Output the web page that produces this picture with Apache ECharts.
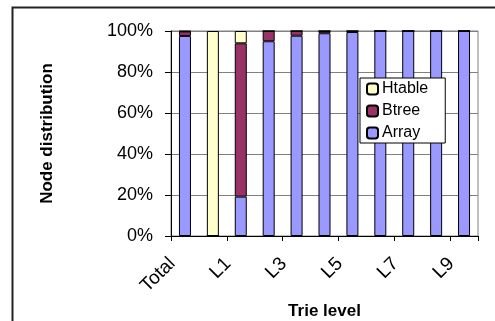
<!DOCTYPE html>
<html>
<head>
<meta charset="utf-8">
<script src="https://cdn.jsdelivr.net/npm/echarts@6/dist/echarts.min.js"></script>
<style>html,body{margin:0;padding:0;background:#fff}#c{width:495px;height:321px}</style>
</head>
<body>
<div id="c"></div>
<script>
const categories = ['Total','L0','L1','L2','L3','L4','L5','L6','L7','L8','L9'];
const arrayVals  = [97.6, 0, 19.2, 95.0, 97.7, 98.9, 99.5, 100, 100, 100, 100];
const btreeVals  = [2.2, 0, 74.8, 5.0, 2.3, 1.1, 0.5, 0, 0, 0, 0];
const htableVals = [0.2, 100, 6.0, 0, 0, 0, 0, 0, 0, 0, 0];
const yTicks = [0, 20, 40, 60, 80, 100];

const FONT = 'Arial, "Liberation Sans", sans-serif';
const chart = echarts.init(document.getElementById('c'), null, {renderer: 'canvas'});
const bar = (name, data, color) => ({
  name, type: 'bar', stack: 'all', data, barWidth: '43%',
  itemStyle: {color, borderColor: '#000', borderWidth: 1},
  emphasis: {disabled: true}
});
chart.setOption({
  animation: false,
  backgroundColor: '#fff',
  textStyle: {fontFamily: FONT},
  graphic: [{
    type: 'rect', left: 10, top: 5, shape: {x: 0, y: 0, width: 600, height: 400},
    style: {fill: 'none', stroke: '#222', lineWidth: 2}, silent: true, z: 100
  }],
  grid: {left: 171, right: 17, top: 31, bottom: 85, show: true, borderColor: '#808080', borderWidth: 1,
         containLabel: false, outerBoundsMode: 'none'},
  legend: {
    data: ['Htable', 'Btree', 'Array'],
    orient: 'vertical', left: 360, top: 78,
    itemWidth: 11, itemHeight: 11, itemGap: 6,
    padding: [3, 17, 2, 6],
    backgroundColor: '#fff', borderColor: '#000', borderWidth: 1,
    textStyle: {fontSize: 16, lineHeight: 16, color: '#000', fontFamily: FONT, padding: [0, 0, 0, -1]},
    selectedMode: false
  },
  xAxis: {
    type: 'category', data: categories,
    name: 'Trie level', nameLocation: 'middle', nameGap: 60,
    nameTextStyle: {fontSize: 17, fontWeight: 'bold', color: '#000', fontFamily: FONT},
    axisLine: {lineStyle: {color: '#000', width: 1}},
    axisTick: {show: true, length: 5, lineStyle: {color: '#000'}},
    axisLabel: {rotate: 45, interval: 1, fontSize: 19, color: '#000', margin: 12, padding: [0, 18, 0, 0], fontFamily: FONT}
  },
  yAxis: {
    type: 'value', min: 0, max: 100, interval: 20,
    name: 'Node distribution', nameLocation: 'middle', nameGap: 115, nameRotate: 90,
    nameTextStyle: {fontSize: 17, fontWeight: 'bold', color: '#000', fontFamily: FONT},
    axisLine: {show: true, lineStyle: {color: '#000', width: 1}},
    axisTick: {show: true, length: 6, lineStyle: {color: '#000'}},
    axisLabel: {formatter: v => yTicks.includes(v) ? v + '%' : '', fontSize: 18, color: '#000', margin: 18, fontFamily: FONT},
    splitLine: {show: true, lineStyle: {color: '#808080', width: 1}}
  },
  series: [
    bar('Array', arrayVals, '#9999FF'),
    bar('Btree', btreeVals, '#993366'),
    bar('Htable', htableVals, '#FFFFCC')
  ]
});
</script>
</body>
</html>
